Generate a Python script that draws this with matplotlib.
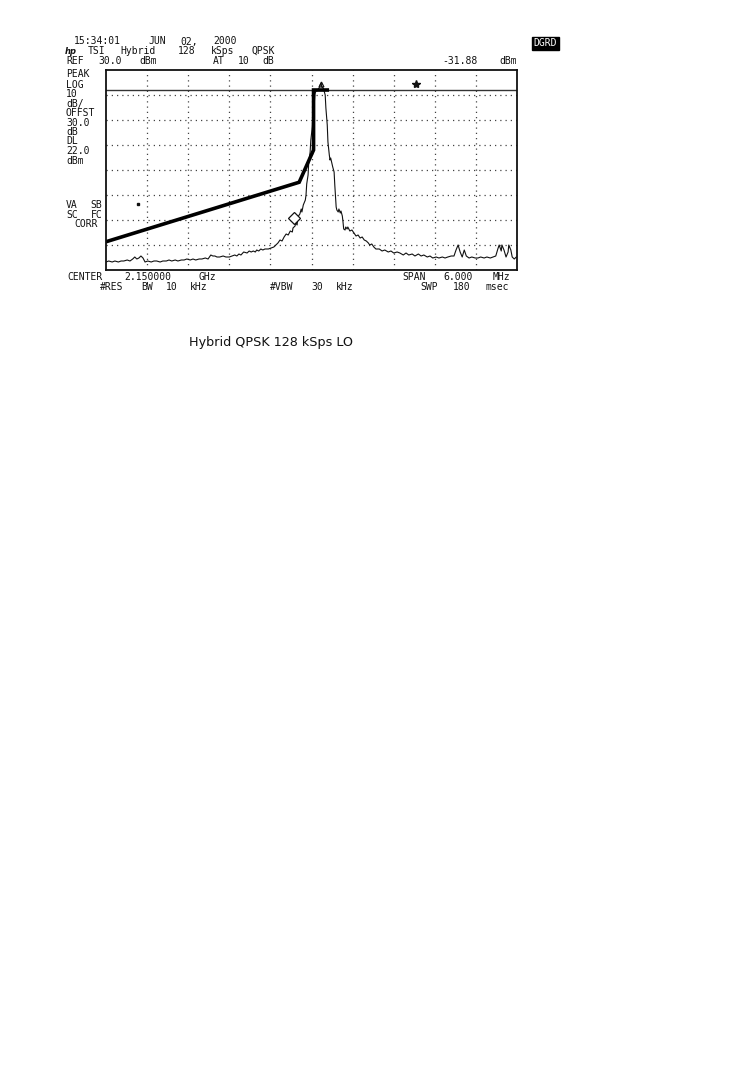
"""Spectrum analyzer screen capture: Hybrid QPSK 128 kSps LO."""

import matplotlib

matplotlib.use("Agg")
import matplotlib.pyplot as plt

W, H = 744, 1078
INK = "#111111"
GRID = "#444444"
MONO = "DejaVu Sans Mono"
PITCH = 8.2  # the analyzer font is set on a wide fixed pitch

# trace, frequency offset from 2.150000 GHz (MHz) and level (dBm)
trace_mhz = [
    -3.00, -2.96, -2.91, -2.87, -2.82, -2.78, -2.74, -2.69, -2.65, -2.61,
    -2.58, -2.55, -2.52, -2.49, -2.46, -2.43, -2.39, -2.34, -2.30, -2.26,
    -2.21, -2.17, -2.12, -2.08, -2.04, -1.99, -1.95, -1.90, -1.86, -1.82,
    -1.77, -1.73, -1.69, -1.64, -1.60, -1.55, -1.51, -1.47, -1.44, -1.41,
    -1.38, -1.34, -1.29, -1.25, -1.20, -1.16, -1.12, -1.09, -1.06, -1.03,
    -0.99, -0.94, -0.91, -0.88, -0.85, -0.82, -0.80, -0.77, -0.74, -0.71,
    -0.68, -0.63, -0.59, -0.55, -0.52, -0.49, -0.46, -0.43, -0.40, -0.37,
    -0.34, -0.31, -0.28, -0.27, -0.24, -0.23, -0.21, -0.20, -0.17, -0.15,
    -0.14, -0.12, -0.09, -0.08, -0.07, -0.05, -0.04, -0.02, -0.01, 0.01,
    0.02, 0.04, 0.05, 0.07, 0.08, 0.10, 0.11, 0.12, 0.14, 0.15,
    0.17, 0.18, 0.20, 0.21, 0.23, 0.24, 0.26, 0.27, 0.28, 0.30,
    0.31, 0.33, 0.34, 0.36, 0.37, 0.39, 0.40, 0.42, 0.43, 0.45,
    0.46, 0.47, 0.49, 0.50, 0.52, 0.53, 0.56, 0.59, 0.62, 0.65,
    0.68, 0.71, 0.74, 0.77, 0.80, 0.83, 0.85, 0.88, 0.91, 0.94,
    0.99, 1.03, 1.07, 1.12, 1.16, 1.20, 1.25, 1.29, 1.34, 1.38,
    1.42, 1.47, 1.51, 1.56, 1.60, 1.64, 1.69, 1.73, 1.77, 1.82,
    1.86, 1.91, 1.95, 1.99, 2.04, 2.08, 2.11, 2.14, 2.17, 2.20,
    2.23, 2.26, 2.30, 2.34, 2.39, 2.43, 2.47, 2.52, 2.56, 2.61,
    2.65, 2.69, 2.72, 2.74, 2.77, 2.78, 2.81, 2.84, 2.87, 2.88,
    2.91, 2.93, 2.96, 2.99,
]
trace_dbm = [
    -46.8, -46.4, -46.8, -46.4, -46.8, -46.4, -46.4, -46.0, -46.4, -45.6,
    -44.8, -45.6, -45.2, -44.4, -45.2, -46.8, -46.4, -46.8, -46.4, -46.4,
    -46.8, -46.4, -46.4, -46.0, -46.4, -46.0, -46.4, -46.0, -46.0, -45.6,
    -46.0, -45.6, -46.0, -45.6, -45.6, -45.2, -45.6, -44.0, -44.4, -44.4,
    -44.8, -44.8, -44.4, -44.8, -44.8, -44.4, -44.0, -44.4, -43.6, -44.0,
    -42.8, -43.2, -42.4, -42.8, -42.4, -42.8, -42.0, -42.4, -41.6, -42.0,
    -41.6, -41.6, -41.2, -40.8, -40.0, -39.2, -38.0, -38.4, -36.8, -35.6,
    -36.0, -34.4, -34.8, -33.2, -32.4, -31.2, -32.0, -28.8, -27.6, -25.6,
    -26.8, -24.0, -22.0, -20.0, -15.6, -12.0, -6.8, -2.8, 2.0, 6.8,
    12.0, 16.4, 20.4, 22.0, 21.6, 22.4, 22.8, 23.6, 24.8, 23.2,
    22.8, 22.0, 20.0, 14.8, 8.0, 1.2, -4.0, -6.0, -5.2, -7.6,
    -8.8, -10.8, -16.0, -24.8, -26.0, -26.8, -25.6, -27.2, -26.4, -28.4,
    -30.8, -33.6, -34.0, -32.8, -33.6, -32.8, -34.4, -34.0, -35.2, -36.4,
    -36.0, -37.2, -36.8, -38.0, -38.4, -39.2, -40.0, -39.6, -40.8, -41.6,
    -41.6, -42.4, -42.0, -42.8, -42.4, -43.2, -42.8, -43.2, -44.0, -43.2,
    -44.0, -43.6, -44.4, -43.6, -44.4, -44.0, -44.8, -44.4, -45.2, -44.8,
    -45.2, -44.8, -45.2, -44.8, -44.4, -44.4, -42.0, -40.0, -42.8, -44.8,
    -42.0, -44.4, -45.2, -44.8, -45.2, -45.2, -44.8, -45.2, -44.8, -45.2,
    -44.8, -44.4, -41.6, -40.0, -42.4, -40.0, -42.0, -44.8, -42.8, -40.0,
    -42.0, -44.8, -45.6, -44.8,
]

# spectral mask (limit line)
limit_mhz = [-3.00, -0.18, 0.03, 0.03, 0.23]
limit_dbm = [-38.7, -14.9, -2.0, 22.0, 22.0]

ref_level = 30.0
db_per_div = 10
display_line = 22.0
span_mhz = 6.0

marker_diamond = (-0.255, -29.2)
marker_peak = (0.14, 24.6)
marker_star = (1.53, 24.4)
marker_dot = (-2.53, -23.6)

left_labels = [
    ("PEAK", 74), ("LOG", 84.5), ("10", 94), ("dB/", 103.5), ("OFFST", 113),
    ("30.0", 122.5), ("dB", 132), ("DL", 141.5), ("22.0", 151), ("dBm", 160.5),
    ("VA SB", 205), ("SC FC", 214.5), (" CORR", 224),
]


def px(x, y):
    return x / W, 1 - y / H


def mono(fig, x, y, s, size=7):
    # one text per word, each word starting on its character column
    col = 0
    for word in s.split(" "):
        if word:
            fig.text(*px(x + col * PITCH, y), word, family=MONO, fontsize=size,
                     color=INK, ha="left", va="center")
        col += len(word) + 1


fig = plt.figure(figsize=(W / 100, H / 100), dpi=100)
fig.patch.set_facecolor("white")

ax = fig.add_axes([106 / W, 1 - 270 / H, 411 / W, 200 / H])
ax.set_xlim(-span_mhz / 2, span_mhz / 2)
ax.set_ylim(ref_level - 8 * db_per_div, ref_level)
ax.set_xticks([])
ax.set_yticks([])
for sp in ax.spines.values():
    sp.set_linewidth(1.3)
    sp.set_color(INK)

dots = (0, (1, 3.2))
for i in range(1, 10):
    ax.axvline(-span_mhz / 2 + i * span_mhz / 10, color=GRID, lw=0.9, ls=dots)
for i in range(1, 8):
    ax.axhline(ref_level - i * db_per_div, color=GRID, lw=0.9, ls=dots)

ax.axhline(display_line, color="#333333", lw=1.0)
ax.plot(trace_mhz, trace_dbm, color=INK, lw=0.8)
ax.plot(limit_mhz, limit_dbm, color="black", lw=2.6, solid_joinstyle="miter")

ax.plot(*marker_diamond, marker="D", ms=6, mfc="white", mec=INK, mew=0.9)
ax.plot(*marker_peak, marker="^", ms=3.5, mfc="none", mec=INK, mew=0.9)
ax.plot(*marker_star, marker="*", ms=6, color=INK)
ax.plot(*marker_dot, marker="s", ms=1.8, color=INK)

# header block
mono(fig, 66, 41.5, " 15:34:01 JUN 02, 2000")
fig.text(*px(65, 51), "hp", fontsize=6, style="italic", weight="bold",
         color=INK, ha="left", va="center")
mono(fig, 88, 51, "TSI Hybrid 128 kSps QPSK")
mono(fig, 66, 60.5, "REF 30.0 dBm")
mono(fig, 213, 60.5, "AT 10 dB")
mono(fig, 442, 60.5, "-31.88 dBm")
fig.text(*px(545.5, 43.5), "DGRD", family=MONO, fontsize=7, color="white",
         ha="center", va="center",
         bbox=dict(boxstyle="square,pad=0.2", fc="black", ec="black"))

for label, y in left_labels:
    mono(fig, 66, y, label)

# footer block
mono(fig, 67, 277, "CENTER 2.150000 GHz")
mono(fig, 402, 277, "SPAN 6.000 MHz")
mono(fig, 100, 287, "#RES BW 10 kHz")
mono(fig, 270, 287, "#VBW 30 kHz")
mono(fig, 420, 287, "SWP 180 msec")

fig.text(*px(189, 343), "Hybrid QPSK 128 kSps LO", fontsize=9.2,
         family="DejaVu Sans", color=INK, ha="left", va="center")

fig.savefig("out.png", dpi=100, facecolor="white")
